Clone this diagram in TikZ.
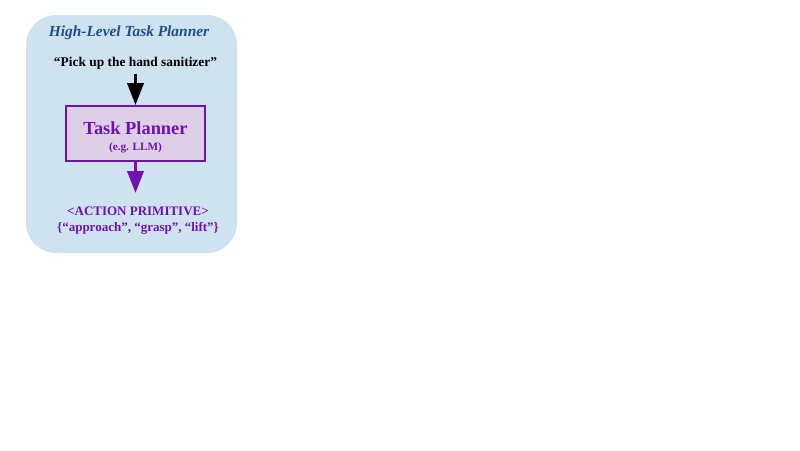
\documentclass[tikz,border=0pt]{standalone}
\usepackage{fontspec}
\setmainfont{Liberation Serif}
\usetikzlibrary{arrows.meta}

\definecolor{panelBlue}{HTML}{CEE2EF}
\definecolor{titleBlue}{HTML}{1F4E8C}
\definecolor{plannerPurple}{HTML}{7012B0}
\definecolor{plannerFill}{HTML}{DCCFE6}

\begin{document}
\begin{tikzpicture}[x=1pt, y=-1pt, font=\bfseries]
        \tikzstyle{panelStyle} = [rounded corners=30pt, fill=panelBlue]
        \tikzstyle{boxStyle} = [draw=plannerPurple, fill=plannerFill, line width=1.8pt,
                                minimum width=139pt, minimum height=55pt, align=center,
                                text=plannerPurple, inner sep=0pt]
        \tikzstyle{flowArrow} = [line width=3.5pt, -{Triangle[length=22pt, width=16pt]}]
        \useasboundingbox (0,0) rectangle (800,450);
        \fill[panelStyle] (26,15) rectangle (237,253);
        \node[text=titleBlue, font=\bfseries\itshape\fontsize{15.4}{18}\selectfont]
            (title) at (129,33) {High-Level Task Planner};
        \node[inner sep=0pt, font=\bfseries\fontsize{13.4}{16}\selectfont]
            (cmd) at (135.5,63) {“Pick up the hand sanitizer”};
        \node[boxStyle, font=\bfseries\fontsize{18.4}{20}\selectfont]
            (planner) at (135.5,133.5)
            {\rule{0pt}{19.5pt}Task Planner\\[-4pt]
             {\fontsize{11.2}{13}\selectfont (e.g. LLM)}};
        \node[text=plannerPurple, align=center, inner sep=0pt,
              font=\bfseries\fontsize{13}{16}\selectfont]
            (primitive) at (138,221) {<ACTION PRIMITIVE>\\\{“approach”, “grasp”, “lift”\}};
        \coordinate (cmdEnd) at ([yshift=-5pt]cmd.south -| planner.north);
        \coordinate (primStart) at ([yshift=14pt]primitive.north -| planner.south);
        \draw[flowArrow, black] (cmdEnd) -- (planner.north);
        \draw[flowArrow, draw=plannerPurple, fill=plannerPurple]
            (planner.south) -- (primStart);
    \end{tikzpicture}
\end{document}
